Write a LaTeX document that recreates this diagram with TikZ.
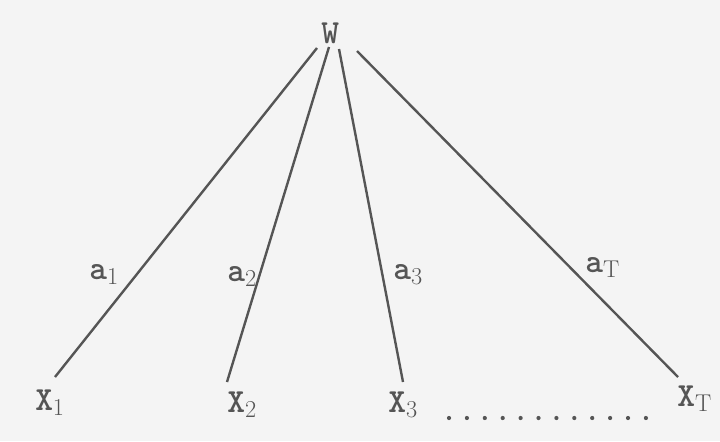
\documentclass[tikz,border=0pt]{standalone}
\usepackage{tikz}
\definecolor{ink}{HTML}{555555}
\definecolor{paper}{HTML}{F4F4F4}
\tikzset{
  lbl/.style={anchor=base west,inner sep=0pt,text=ink,font=\fontsize{24}{28}\selectfont\ttfamily\bfseries},
  edge/.style={draw=ink,line width=1.7pt}
}
\begin{document}
\begin{tikzpicture}[x=0.025cm,y=-0.025cm]
  \fill[paper] (0,0) rectangle (720,441);
  \useasboundingbox (0,0) rectangle (720,441);
  \coordinate (t1) at (317,48);
  \coordinate (t2) at (329,47);
  \coordinate (t3) at (339,49);
  \coordinate (tT) at (357,51);
  \coordinate (b1) at (55,377);
  \coordinate (b2) at (227,382);
  \coordinate (b3) at (403,382);
  \coordinate (bT) at (678,377);
  \draw[edge] (t1) -- (b1);
  \draw[edge] (t2) -- (b2);
  \draw[edge] (t3) -- (b3);
  \draw[edge] (tT) -- (bT);
  \node[lbl] (w) at (321,43) {W};
  \node[lbl] (x1) at (35,410) {X$_1$};
  \node[lbl] (x2) at (227,412) {X$_2$};
  \node[lbl] (x3) at (388,412) {X$_3$};
  \node[lbl] (xT) at (677,406) {X$_{\mathrm{T}}$};
  \node[lbl] (a1) at (89,279) {a$_1$};
  \node[lbl] (a2) at (227,281) {a$_2$};
  \node[lbl] (a3) at (393,279) {a$_3$};
  \node[lbl] (aT) at (585,272) {a$_{\mathrm{T}}$};
  \foreach \i in {0,...,11}
    \fill[ink] (449+\i*17.9,418) circle (2.1);
\end{tikzpicture}
\end{document}
